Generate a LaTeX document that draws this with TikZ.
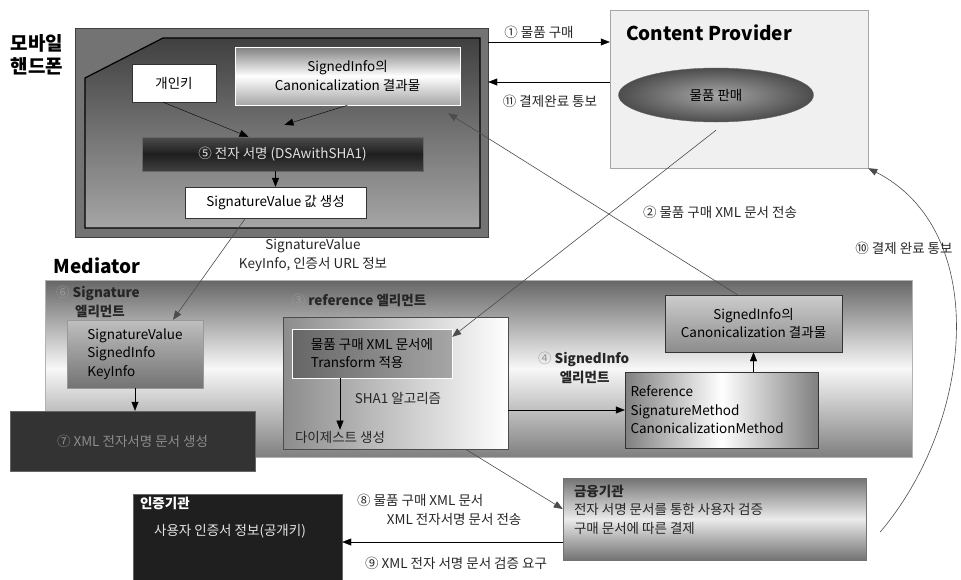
\documentclass[tikz,border=0pt]{standalone}
\usepackage{fontspec}
\setmainfont{Noto Sans CJK KR}
\usetikzlibrary{arrows.meta, shapes.geometric, positioning}

\tikzset{
  lbl/.style={inner sep=1pt, text=black!85},
  title/.style={inner sep=1pt, font=\fontsize{19}{23}\selectfont\bfseries},
  whitebox/.style={draw=black!80, fill=white, inner sep=2pt},
  greybox/.style={draw=black!80, inner sep=4pt},
  darkbox/.style={draw=black!60, fill=black!80, inner sep=2pt},
  wire/.style={->, draw=black!70, line width=0.6pt},
}

\begin{document}
\begin{tikzpicture}[x=1pt, y=1pt, >={Triangle[length=9pt,width=7pt]},
  font=\fontsize{13.5}{18.5}\selectfont]
\useasboundingbox (0,0) rectangle (961,-579);

% mobile phone
\node[title, align=left] (phonetitle) at (37,-55) {모바일\\핸드폰};
\node[draw=black!75, fill=black!55, minimum width=413pt, minimum height=209pt] (phone) at (281.5,-132.5) {};
\shade[top color=black!75, bottom color=black!35, draw=black, line width=1.2pt]
  (85,-78) -- (163,-38) -- (480,-38) -- (480,-228) -- (85,-228) -- cycle;
\node[whitebox, minimum width=84pt, minimum height=38pt] (privkey) at (174,-83) {개인키};
\node[greybox, draw=white, top color=black!50, bottom color=black!35, middle color=white,
  minimum width=225pt, minimum height=58pt, align=center] (canon1) at (347.5,-76)
  {SignedInfo의\\Canonicalization 결과물};
\node[darkbox, top color=black!70, bottom color=black!75, middle color=black!88, text=black!12,
  minimum width=281pt, minimum height=34pt] (dsa) at (282.5,-154) {⑤ 전자 서명 (DSAwithSHA1)};
\node[whitebox, minimum width=181pt, minimum height=31pt] (sigval) at (275.5,-202.5) {SignatureValue 값 생성};
\draw[->] ([xshift=-11pt]privkey.south) -- ([xshift=-34pt]dsa.north);
\draw[->] (canon1.south) -- ([shift={(2pt,12pt)}]dsa.north);
\draw[->] (dsa.south -| sigval.north) -- (sigval.north);

% content provider
\node[draw=black!35, fill=black!6, minimum width=258pt, minimum height=158pt] (cp) at (739,-89) {};
\node[title] (cptitle) at (709,-33) {Content Provider};
\node[ellipse, draw=black!60, inner color=black!35, outer color=black!70,
  minimum width=195pt, minimum height=54pt] (sale) at (716,-95) {물품 판매};
\coordinate (buy) at ([yshift=47pt]cp.west);
\coordinate (paid) at ([yshift=7pt]cp.west);
\node[lbl] (l1) at (539,-32) {① 물품 구매};
\node[lbl] (l11) at (550,-101) {⑪ 결제완료 통보};
\draw[->] (buy -| phone.east) -- (buy);
\draw[->] (paid) -- (paid -| phone.east);

% mediator
\node[title] (medtitle) at (97,-266) {Mediator};
\node[lbl, align=center] (lsig) at (313,-255) {SignatureValue\\KeyInfo, 인증서 URL 정보};
\node[draw=black!30, top color=black!60, bottom color=black!50, middle color=black!3,
  minimum width=867pt, minimum height=177pt] (med) at (478.5,-368.5) {};
\node[lbl, align=left, anchor=west] (l6) at (55,-302)
  {{\color{black!40}⑥} \textbf{Signature}\\\hspace*{1.4em}\textbf{엘리먼트}};
\node[greybox, draw=black!40, top color=black!25, bottom color=black!55, minimum width=136pt,
  minimum height=68pt, align=left] (sigel) at (135,-354) {SignatureValue\\SignedInfo\\KeyInfo};
\node[darkbox, text=black!45, minimum width=245pt, minimum height=60pt] (xmldoc) at (132.5,-441)
  {⑦ XML 전자서명 문서 생성};
\draw[->] (sigel.south) -- (sigel.south |- xmldoc.north);
\draw[wire] ([xshift=-30pt]sigval.south) -- ([xshift=38pt]sigel.north);

\node[lbl] (l3) at (359,-300) {{\color{black!40}③} \textbf{reference 엘리먼트}};
\node[draw=black!70, left color=black!45, right color=white, minimum width=225pt,
  minimum height=132pt] (refbox) at (395.5,-383) {};
\node[greybox, draw=white, left color=black!60, right color=black!35, minimum width=160pt,
  minimum height=49pt, align=left] (xmlbox) at (372,-353.5) {물품 구매 XML 문서에\\Transform 적용};
\node[lbl] (digest) at (340,-437) {다이제스트 생성};
\node[lbl] (sha) at (398,-398) {SHA1 알고리즘};
\draw[->] (xmlbox.south -| digest.north) -- (digest.north);

\node[lbl, align=left, anchor=west] (l4) at (537,-368)
  {{\color{black!40}④} \textbf{SignedInfo}\\\hspace*{1.6em}\textbf{엘리먼트}};
\node[greybox, left color=black!50, right color=black!50, middle color=white, minimum width=193pt,
  minimum height=76pt, align=left, text width=182pt] (refm) at (721.5,-410)
  {Reference\\SignatureMethod\\CanonicalizationMethod};
\node[greybox, top color=black!20, bottom color=black!45, minimum width=177pt,
  minimum height=57pt, align=center] (canon2) at (753.5,-323.5) {SignedInfo의\\Canonicalization 결과물};
\draw[->] (refbox.east |- refm.west) -- (refm.west);
\draw[->] (refm.north -| canon2.south) -- (canon2.south);
\draw[wire] ([xshift=-16pt]canon2.north) -- ([shift={(-12pt,-8pt)}]canon1.south east);
\draw[wire] ([yshift=-8pt]sale.south) -- ([yshift=-8pt]xmlbox.north east);
\node[lbl] (l2) at (720,-212) {② 물품 구매 XML 문서 전송};

% bank and CA
\node[draw=black!55, top color=black!55, bottom color=black!55, middle color=black!8,
  minimum width=303pt, minimum height=82pt] (fin) at (714.5,-519) {};
\node[lbl, align=left, anchor=north west] (fintext) at ([shift={(10pt,-6pt)}]fin.north west)
  {\textbf{금융기관}\\전자 서명 문서를 통한 사용자 검증\\구매 문서에 따른 결제};
\node[darkbox, fill=black!88, minimum width=209pt, minimum height=95pt] (ca) at (237.5,-542) {};
\node[lbl, text=white, anchor=north west] (catitle) at ([shift={(6pt,-2pt)}]ca.north west) {\textbf{인증기관}};
\node[lbl, text=black!10] (cainfo) at (230,-531) {사용자 인증서 정보(공개키)};
\draw[wire] ([xshift=70pt]refbox.south) -- ([yshift=10pt]fin.west);
\draw[->] (fin.west |- ca.east) -- (ca.east);
\node[lbl, align=left, anchor=west] (l8) at (356,-510) {⑧ 물품 구매 XML 문서\\\hspace*{2.2em}XML 전자서명 문서 전송};
\node[lbl] (l9) at (456,-563) {⑨ XML 전자 서명 문서 검증 요구};
\node[lbl] (l10) at (904,-248) {⑩ 결제 완료 통보};
\draw[wire] ([shift={(14pt,-13pt)}]fin.east) .. controls (975,-420) and (990,-230) .. (cp.south east);
\end{tikzpicture}
\end{document}
